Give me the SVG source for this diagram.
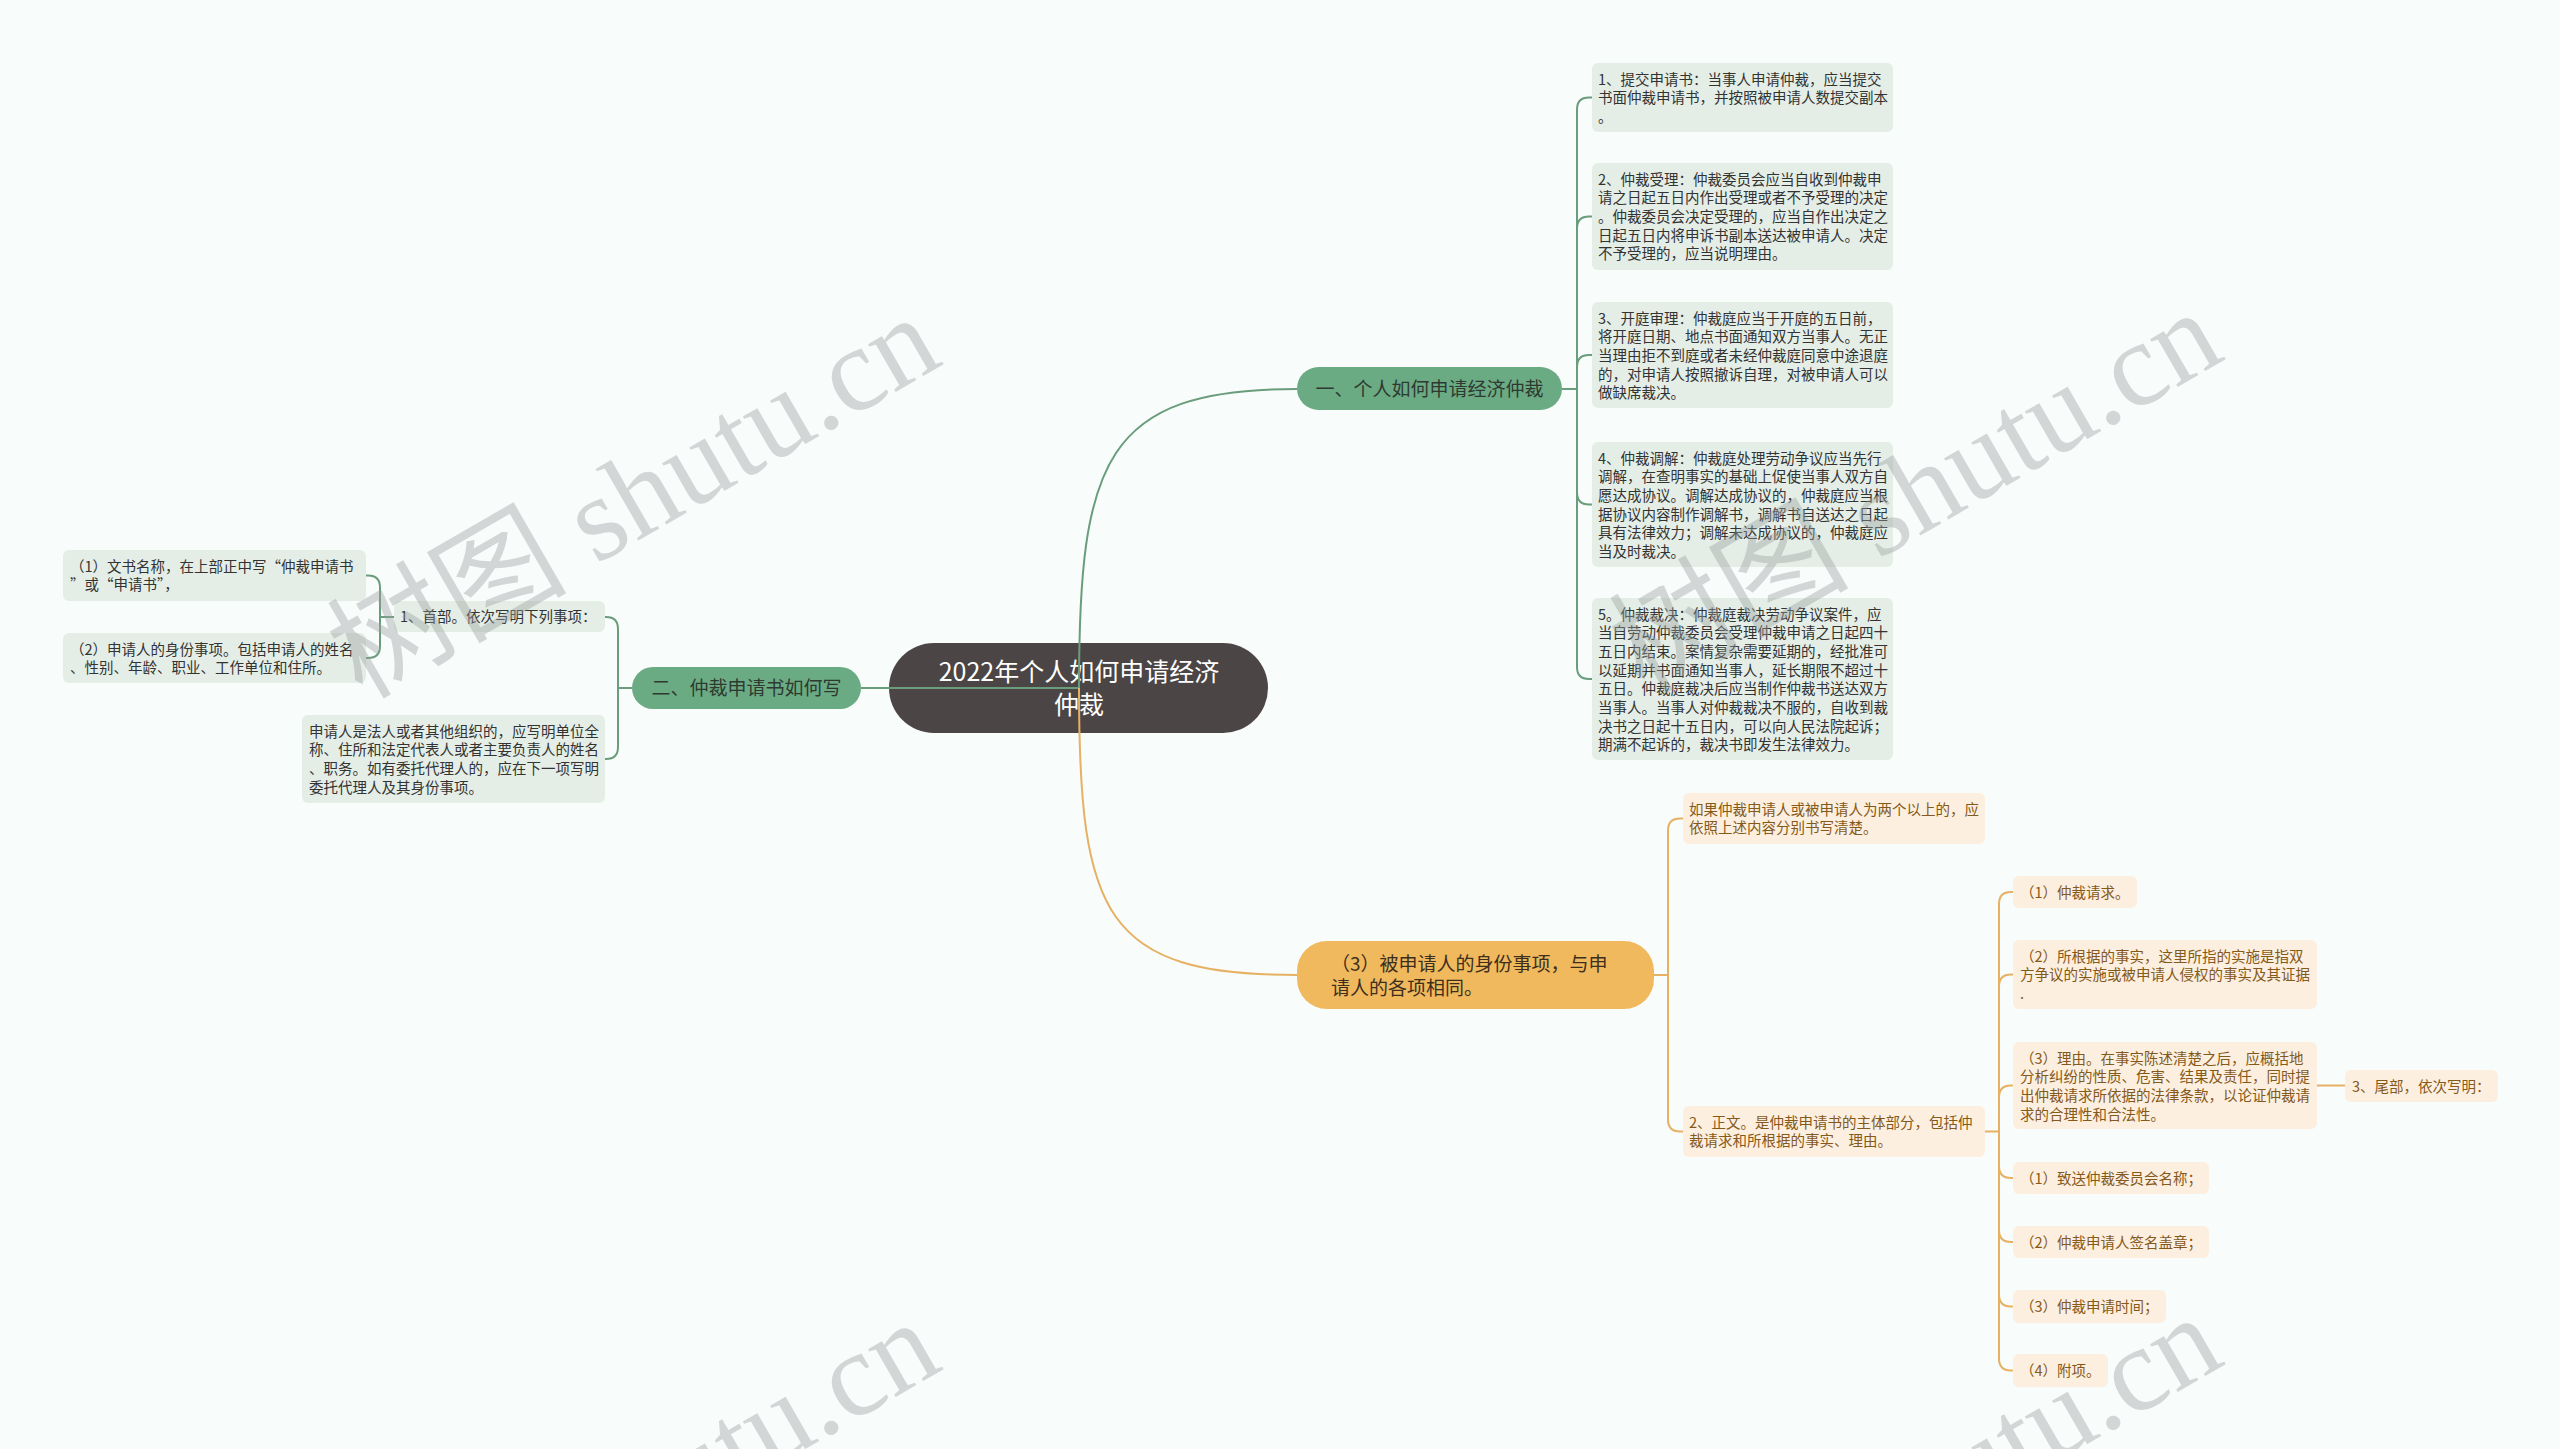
<svg xmlns="http://www.w3.org/2000/svg" width="2560" height="1449" viewBox="0 0 2560 1449">
<style>
text{font-family:"Noto Sans CJK SC","Noto Sans",sans-serif;}
.gl{fill:none;stroke:#6a9d7c;stroke-width:2;}
.ol{fill:none;stroke:#e6b162;stroke-width:2;}
.gbox{fill:#e4eee7;}
.obox{fill:#fcefdf;}
.gt{font-size:14.5px;fill:#333333;}
.ot{font-size:14.5px;fill:#85591a;}
.pill{font-size:19px;fill:#2e3a31;}
.wm{font-family:"Liberation Serif","Noto Sans CJK SC",serif;font-size:120px;fill:#9aa0a0;opacity:0.4;}
</style>
<rect x="0" y="0" width="2560" height="1449" fill="#f8fcfb"/>

<g id="root">
<rect x="889" y="643" width="379" height="90" rx="45" fill="#4b4545"/>
<text x="1079" y="681" font-size="25" fill="#ffffff" text-anchor="middle">2022年个人如何申请经济</text>
<text x="1079" y="714" font-size="25" fill="#ffffff" text-anchor="middle">仲裁</text>
</g>

<g id="connectors">
<path class="gl" d="M1079 688 C1079 460 1105 389 1297 389"/>
<path class="gl" d="M1079 688 H861"/>
<path class="ol" d="M1079 688 C1079 916 1105 975 1297 975"/>
<path class="gl" d="M1562 389 H1577"/>
<path class="gl" d="M1577 389 V109.5 Q1577 97.5 1589 97.5 H1592"/>
<path class="gl" d="M1577 389 V228.5 Q1577 216.5 1589 216.5 H1592"/>
<path class="gl" d="M1577 389 V367 Q1577 355 1589 355 H1592"/>
<path class="gl" d="M1577 389 V492.5 Q1577 504.5 1589 504.5 H1592"/>
<path class="gl" d="M1577 389 V667 Q1577 679 1589 679 H1592"/>
<path class="gl" d="M632 688 H618"/>
<path class="gl" d="M618 688 V629 Q618 617 606 617 H605"/>
<path class="gl" d="M618 688 V747 Q618 759 606 759 H605"/>
<path class="gl" d="M394 617 H380"/>
<path class="gl" d="M380 617 V587.5 Q380 575.5 368 575.5 H366"/>
<path class="gl" d="M380 617 V646 Q380 658 368 658 H366"/>
<path class="ol" d="M1654 975 H1668"/>
<path class="ol" d="M1668 975 V830.5 Q1668 818.5 1680 818.5 H1683"/>
<path class="ol" d="M1668 975 V1119.5 Q1668 1131.5 1680 1131.5 H1683"/>
<path class="ol" d="M1985 1131.5 H1999"/>
<path class="ol" d="M1999 1131.5 V904 Q1999 892 2011 892 H2013"/>
<path class="ol" d="M1999 1131.5 V986.5 Q1999 974.5 2011 974.5 H2013"/>
<path class="ol" d="M1999 1131.5 V1097.5 Q1999 1085.5 2011 1085.5 H2013"/>
<path class="ol" d="M1999 1131.5 V1166 Q1999 1178 2011 1178 H2013"/>
<path class="ol" d="M1999 1131.5 V1230 Q1999 1242 2011 1242 H2013"/>
<path class="ol" d="M1999 1131.5 V1294.5 Q1999 1306.5 2011 1306.5 H2013"/>
<path class="ol" d="M1999 1131.5 V1358.5 Q1999 1370.5 2011 1370.5 H2013"/>
<path class="ol" d="M2317 1085.5 H2345"/>
</g>

<g id="b1">
<rect x="1297" y="367" width="265" height="43" rx="21.5" fill="#6bab84"/>
<text class="pill" x="1429.5" y="395.5" text-anchor="middle">一、个人如何申请经济仲裁</text>
</g>
<g id="b1c1">
<rect class="gbox" x="1592" y="63" width="301" height="69" rx="6"/>
<text class="gt"><tspan x="1598" y="84.5">1、提交申请书：当事人申请仲裁，应当提交</tspan><tspan x="1598" y="103.2">书面仲裁申请书，并按照被申请人数提交副本</tspan><tspan x="1598" y="121.9">。</tspan></text>
</g>
<g id="b1c2">
<rect class="gbox" x="1592" y="163" width="301" height="107" rx="6"/>
<text class="gt"><tspan x="1598" y="184.5">2、仲裁受理：仲裁委员会应当自收到仲裁申</tspan><tspan x="1598" y="203.2">请之日起五日内作出受理或者不予受理的决定</tspan><tspan x="1598" y="221.9">。仲裁委员会决定受理的，应当自作出决定之</tspan><tspan x="1598" y="240.6">日起五日内将申诉书副本送达被申请人。决定</tspan><tspan x="1598" y="259.3">不予受理的，应当说明理由。</tspan></text>
</g>
<g id="b1c3">
<rect class="gbox" x="1592" y="302" width="301" height="106" rx="6"/>
<text class="gt"><tspan x="1598" y="323.5">3、开庭审理：仲裁庭应当于开庭的五日前，</tspan><tspan x="1598" y="342.2">将开庭日期、地点书面通知双方当事人。无正</tspan><tspan x="1598" y="360.9">当理由拒不到庭或者未经仲裁庭同意中途退庭</tspan><tspan x="1598" y="379.6">的，对申请人按照撤诉自理，对被申请人可以</tspan><tspan x="1598" y="398.3">做缺席裁决。</tspan></text>
</g>
<g id="b1c4">
<rect class="gbox" x="1592" y="442" width="301" height="125" rx="6"/>
<text class="gt"><tspan x="1598" y="463.5">4、仲裁调解：仲裁庭处理劳动争议应当先行</tspan><tspan x="1598" y="482.2">调解，在查明事实的基础上促使当事人双方自</tspan><tspan x="1598" y="500.9">愿达成协议。调解达成协议的，仲裁庭应当根</tspan><tspan x="1598" y="519.6">据协议内容制作调解书，调解书自送达之日起</tspan><tspan x="1598" y="538.3">具有法律效力；调解未达成协议的，仲裁庭应</tspan><tspan x="1598" y="557">当及时裁决。</tspan></text>
</g>
<g id="b1c5">
<rect class="gbox" x="1592" y="598" width="301" height="162" rx="6"/>
<text class="gt"><tspan x="1598" y="619.5">5。仲裁裁决：仲裁庭裁决劳动争议案件，应</tspan><tspan x="1598" y="638.2">当自劳动仲裁委员会受理仲裁申请之日起四十</tspan><tspan x="1598" y="656.9">五日内结束。案情复杂需要延期的，经批准可</tspan><tspan x="1598" y="675.6">以延期并书面通知当事人，延长期限不超过十</tspan><tspan x="1598" y="694.3">五日。仲裁庭裁决后应当制作仲裁书送达双方</tspan><tspan x="1598" y="713">当事人。当事人对仲裁裁决不服的，自收到裁</tspan><tspan x="1598" y="731.7">决书之日起十五日内，可以向人民法院起诉；</tspan><tspan x="1598" y="750.4">期满不起诉的，裁决书即发生法律效力。</tspan></text>
</g>

<g id="b2">
<rect x="632" y="667" width="229" height="42" rx="21" fill="#6bab84"/>
<text class="pill" x="746.5" y="695" text-anchor="middle">二、仲裁申请书如何写</text>
</g>
<g id="b2c1">
<rect class="gbox" x="394" y="601" width="211" height="31" rx="6"/>
<text class="gt" x="400" y="622">1、首部。依次写明下列事项：</text>
</g>
<g id="b2c1a">
<rect class="gbox" x="63" y="550" width="303" height="51" rx="6"/>
<text class="gt"><tspan x="70" y="571.5">（1）文书名称，在上部正中写“仲裁申请书</tspan><tspan x="70" y="590.2">”或“申请书”，</tspan></text>
</g>
<g id="b2c1b">
<rect class="gbox" x="63" y="633" width="303" height="50" rx="6"/>
<text class="gt"><tspan x="70" y="654.5">（2）申请人的身份事项。包括申请人的姓名</tspan><tspan x="70" y="673.2">、性别、年龄、职业、工作单位和住所。</tspan></text>
</g>
<g id="b2c2">
<rect class="gbox" x="302" y="715" width="303" height="88" rx="6"/>
<text class="gt"><tspan x="309" y="736.5">申请人是法人或者其他组织的，应写明单位全</tspan><tspan x="309" y="755.2">称、住所和法定代表人或者主要负责人的姓名</tspan><tspan x="309" y="773.9">、职务。如有委托代理人的，应在下一项写明</tspan><tspan x="309" y="792.6">委托代理人及其身份事项。</tspan></text>
</g>

<g id="b3">
<rect x="1297" y="941" width="357" height="68" rx="30" fill="#f0b95e"/>
<text x="1331" y="971" font-size="19" fill="#3d2f1c">（3）被申请人的身份事项，与申</text>
<text x="1331" y="995" font-size="19" fill="#3d2f1c">请人的各项相同。</text>
</g>
<g id="b3c1">
<rect class="obox" x="1683" y="793" width="302" height="51" rx="6"/>
<text class="ot"><tspan x="1689" y="814.5">如果仲裁申请人或被申请人为两个以上的，应</tspan><tspan x="1689" y="833.2">依照上述内容分别书写清楚。</tspan></text>
</g>
<g id="b3c2">
<rect class="obox" x="1683" y="1106" width="302" height="51" rx="6"/>
<text class="ot"><tspan x="1689" y="1127.5">2、正文。是仲裁申请书的主体部分，包括仲</tspan><tspan x="1689" y="1146.2">裁请求和所根据的事实、理由。</tspan></text>
</g>
<g id="z1">
<rect class="obox" x="2013" y="876" width="124" height="32" rx="6"/>
<text class="ot" x="2020" y="897.5">（1）仲裁请求。</text>
</g>
<g id="z2">
<rect class="obox" x="2013" y="940" width="304" height="69" rx="6"/>
<text class="ot"><tspan x="2020" y="961.5">（2）所根据的事实，这里所指的实施是指双</tspan><tspan x="2020" y="980.2">方争议的实施或被申请人侵权的事实及其证据</tspan><tspan x="2020" y="998.9">.</tspan></text>
</g>
<g id="z3">
<rect class="obox" x="2013" y="1042" width="304" height="87" rx="6"/>
<text class="ot"><tspan x="2020" y="1063.5">（3）理由。在事实陈述清楚之后，应概括地</tspan><tspan x="2020" y="1082.2">分析纠纷的性质、危害、结果及责任，同时提</tspan><tspan x="2020" y="1100.9">出仲裁请求所依据的法律条款，以论证仲裁请</tspan><tspan x="2020" y="1119.6">求的合理性和合法性。</tspan></text>
</g>
<g id="z3a">
<rect class="obox" x="2345" y="1070" width="153" height="32" rx="6"/>
<text class="ot" x="2352" y="1091.5">3、尾部，依次写明：</text>
</g>
<g id="z4">
<rect class="obox" x="2013" y="1162" width="196" height="32" rx="6"/>
<text class="ot" x="2020" y="1183.5">（1）致送仲裁委员会名称；</text>
</g>
<g id="z5">
<rect class="obox" x="2013" y="1226" width="196" height="32" rx="6"/>
<text class="ot" x="2020" y="1247.5">（2）仲裁申请人签名盖章；</text>
</g>
<g id="z6">
<rect class="obox" x="2013" y="1290" width="153" height="33" rx="6"/>
<text class="ot" x="2020" y="1311.5">（3）仲裁申请时间；</text>
</g>
<g id="z7">
<rect class="obox" x="2013" y="1354" width="95" height="33" rx="6"/>
<text class="ot" x="2020" y="1375.5">（4）附项。</text>
</g>

<g id="watermark">
<text class="wm" x="362" y="700" transform="rotate(-30 362 700)">树图 shutu.cn</text>
<text class="wm" x="1644" y="695" transform="rotate(-30 1644 695)">树图 shutu.cn</text>
<text class="wm" x="362" y="1705" transform="rotate(-30 362 1705)">树图 shutu.cn</text>
<text class="wm" x="1644" y="1700" transform="rotate(-30 1644 1700)">树图 shutu.cn</text>
</g>
</svg>
